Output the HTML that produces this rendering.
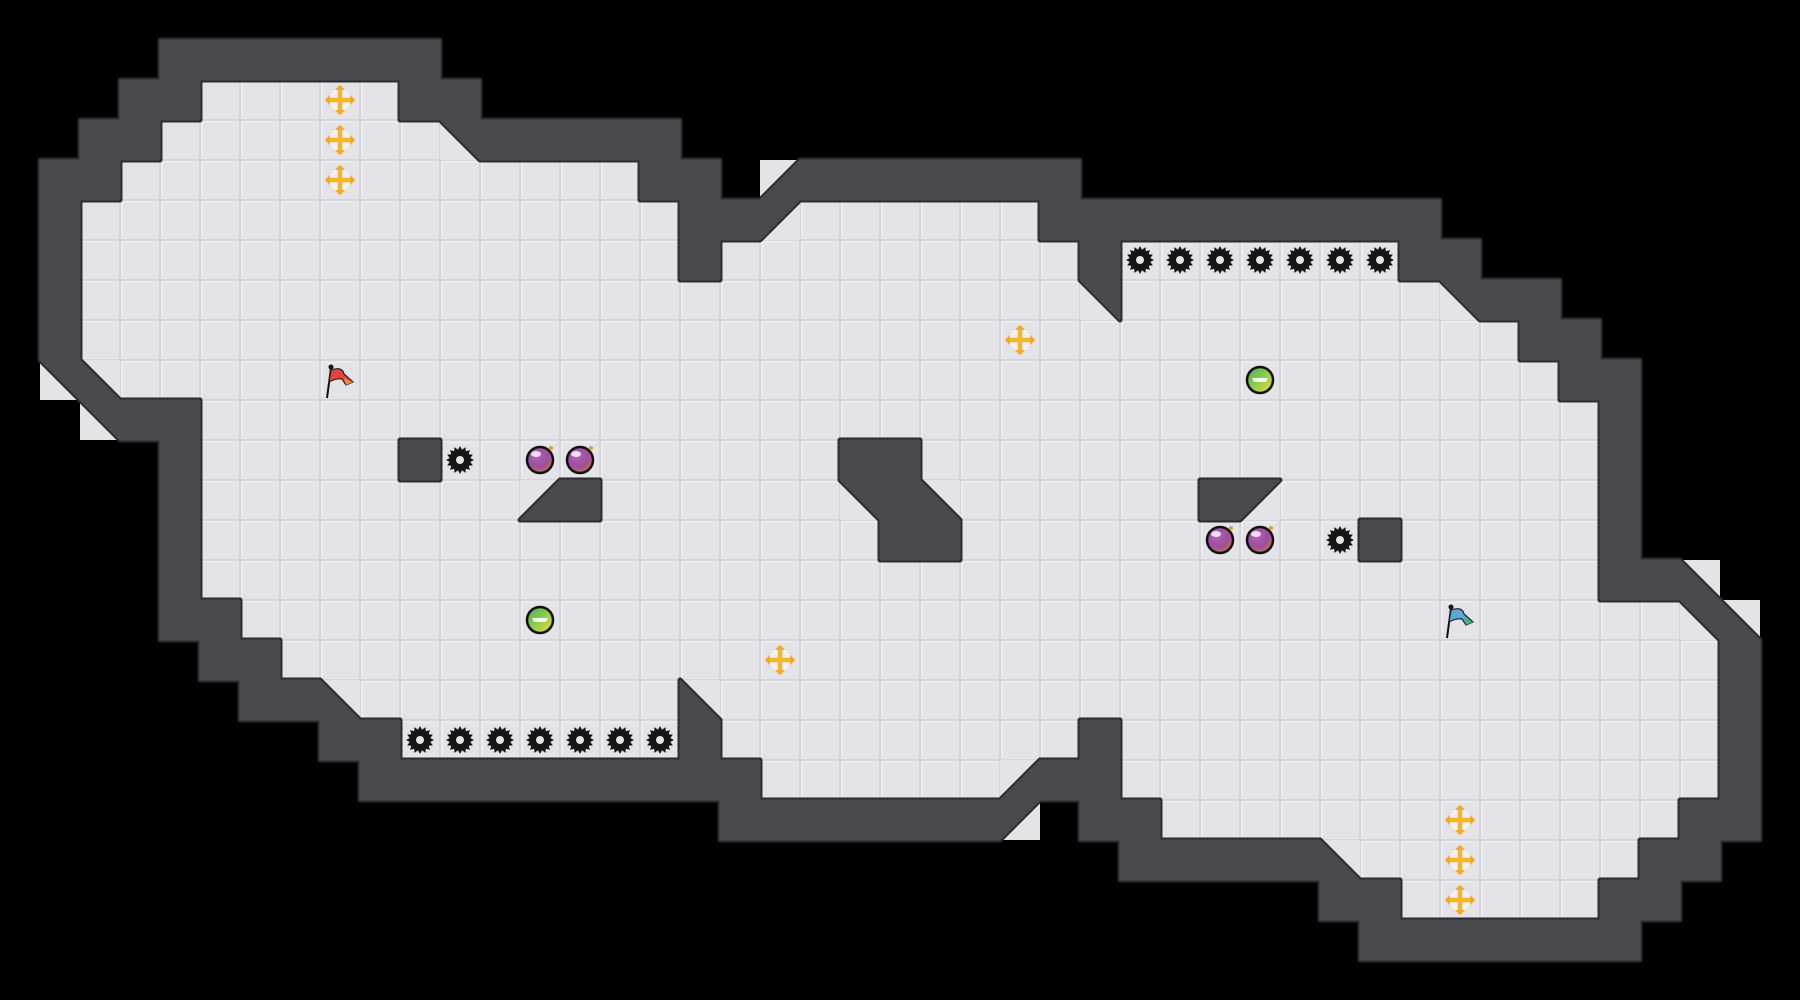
<!DOCTYPE html>
<html><head><meta charset="utf-8"><style>
html,body{margin:0;padding:0;background:#000;width:1800px;height:1000px;overflow:hidden}
svg{display:block}
</style></head><body>
<svg id="s" width="1800" height="1000" viewBox="0 0 1800 1000" xmlns="http://www.w3.org/2000/svg">
<defs>
<radialGradient id="pg" cx="0.4" cy="0.35" r="0.7"><stop offset="0" stop-color="#b565b8"/><stop offset="0.6" stop-color="#9a4f9a"/><stop offset="1" stop-color="#d0704a"/></radialGradient>
<linearGradient id="gg" x1="0" y1="0" x2="1" y2="1"><stop offset="0" stop-color="#3cb35a"/><stop offset="1" stop-color="#e8e03a"/></linearGradient>
</defs>
<g id="floor"></g><g id="w1"></g><g id="w2"></g><g id="items"></g>
</svg>
<script>
var C=40,NS="http://www.w3.org/2000/svg";
function el(p,t,a){var e=document.createElementNS(NS,t);for(var k in a)e.setAttribute(k,a[k]);document.getElementById(p).appendChild(e);return e;}
var rows={
1:[["W",4,10]],
2:[["W",3,4],["F",5,9],["W",10,11]],
3:[["W",2,3],["F",4,10],["W",12,16]],
4:[["W",1,2],["F",3,15],["W",16,17],["W",20,26]],
5:[["W",1,1],["F",2,16],["W",17,18],["F",20,25],["W",26,35]],
6:[["W",1,1],["F",2,16],["W",17,17],["F",18,26],["W",27,27],["F",28,34],["W",35,36]],
7:[["W",1,1],["F",2,26],["F",28,35],["W",37,38]],
8:[["W",1,1],["F",2,37],["W",38,39]],
9:[["F",3,38],["W",39,40]],
10:[["W",3,4],["F",5,39],["W",40,40]],
11:[["W",4,4],["F",5,39],["W",40,40],["W",10,10],["W",21,22]],
12:[["W",4,4],["F",5,39],["W",40,40],["W",14,14],["W",22,22],["W",30,30]],
13:[["W",4,4],["F",5,39],["W",40,40],["W",22,23],["W",34,34]],
14:[["W",4,4],["F",5,39],["W",40,41]],
15:[["W",4,5],["F",6,41]],
16:[["W",5,6],["F",7,42],["W",43,43]],
17:[["W",6,7],["F",9,16],["F",18,42],["W",43,43]],
18:[["W",8,9],["F",10,16],["W",17,17],["F",18,26],["W",27,27],["F",28,42],["W",43,43]],
19:[["W",9,18],["F",19,24],["W",26,27],["F",28,42],["W",43,43]],
20:[["W",18,24],["W",27,28],["F",29,41],["W",42,43]],
21:[["W",28,32],["F",34,40],["W",41,42]],
22:[["W",33,34],["F",35,39],["W",40,41]],
23:[["W",34,40]]
};
var T={LL:[[0,0],[0,1],[1,1]],UR:[[0,0],[1,0],[1,1]],UL:[[0,0],[1,0],[0,1]],LR:[[1,0],[1,1],[0,1]]};
var D=[[3,11,"LL","F","UR","W"],[4,19,"UL","F","LR","W"],[5,19,"UL","W","LR","F"],[7,27,"LL","F","UR","W"],[7,36,"LL","F","UR","W"],
[9,1,"LL","F","UR","W"],[9,2,"LL","W","UR","F"],[10,2,"LL","F","UR","W"],[12,13,"UL","F","LR","W"],[12,21,"LL","F","UR","W"],
[12,23,"LL","W","UR","F"],[12,31,"UL","W","LR","F"],[14,42,"LL","W","UR","F"],[15,42,"LL","F","UR","W"],[15,43,"LL","W","UR","F"],
[17,8,"LL","W","UR","F"],[17,17,"LL","W","UR","F"],[19,25,"UL","F","LR","W"],[20,25,"UL","W","LR","F"],[21,33,"LL","W","UR","F"]];
var walls=[];
for(var r in rows){rows[r].forEach(function(s){
 if(s[0]=="F"){for(var c=s[1];c<=s[2];c++){
   el("floor","rect",{x:c*C,y:r*C,width:C,height:C,fill:"#e3e3e8",stroke:"#d2d2d7","stroke-width":1.5});
   el("floor","path",{d:"M"+(c*C+2)+","+(r*C+C-3)+"V"+(r*C+2)+"H"+(c*C+C-3),stroke:"#efeff2","stroke-width":1.5,fill:"none"});
 }} else walls.push("M"+s[1]*C+","+r*C+"h"+(s[2]-s[1]+1)*C+"v"+C+"h"+(-(s[2]-s[1]+1)*C)+"z");
});}
function tri(r,c,t){return "M"+T[t].map(function(p){return (c+p[0])*C+","+(r+p[1])*C}).join("L")+"z";}
D.forEach(function(d){
 [[d[2],d[3]],[d[4],d[5]]].forEach(function(h){
  if(h[1]=="F")el("floor","path",{d:tri(d[0],d[1],h[0]),fill:"#e3e3e8"});else walls.push(tri(d[0],d[1],h[0]));
 });
});
var wp=walls.join("");
el("w1","path",{d:wp,fill:"#2c2b2f",stroke:"#2c2b2f","stroke-width":5,"stroke-linejoin":"round"});
el("w2","path",{d:wp,fill:"#4a494e",stroke:"#4a494e","stroke-width":1,"stroke-linejoin":"round"});
function ctr(c,r){return [c*C+20,r*C+20];}
function gear(c,r){var p=ctr(c,r),x=p[0],y=p[1],d="";
 for(var i=0;i<32;i++){var a=i*Math.PI/16,rr=i%2?10.5:14;d+=(i?"L":"M")+(x+rr*Math.cos(a)).toFixed(1)+","+(y+rr*Math.sin(a)).toFixed(1);}
 el("items","path",{d:d+"z",fill:"#151515"});el("items","circle",{cx:x,cy:y,r:4,fill:"#e3e3e8"});}
function cross(c,r){var p=ctr(c,r),x=p[0],y=p[1];
 el("items","circle",{cx:x,cy:y,r:12,fill:"#f1f1f4",stroke:"#dcdce2","stroke-width":1});
 el("items","path",{d:"M"+x+","+(y-14)+"V"+(y+14)+"M"+(x-14)+","+y+"H"+(x+14),stroke:"#f6b52a","stroke-width":4.5});
 el("items","path",{d:"M"+(x-5)+","+(y-10)+"L"+x+","+(y-15)+"L"+(x+5)+","+(y-10)+"z M"+(x-5)+","+(y+10)+"L"+x+","+(y+15)+"L"+(x+5)+","+(y+10)+"z M"+(x-10)+","+(y-5)+"L"+(x-15)+","+y+"L"+(x-10)+","+(y+5)+"z M"+(x+10)+","+(y-5)+"L"+(x+15)+","+y+"L"+(x+10)+","+(y+5)+"z",fill:"#f6a82a"});}
function orb(c,r){var p=ctr(c,r),x=p[0],y=p[1];
 el("items","circle",{cx:x,cy:y,r:13,fill:"url(#pg)",stroke:"#111","stroke-width":2.5});
 el("items","ellipse",{cx:x-4,cy:y-6,rx:5,ry:3,fill:"#fff",opacity:0.8});
 el("items","circle",{cx:x+11,cy:y-12,r:2,fill:"#f59a30"});}
function gorb(c,r){var p=ctr(c,r),x=p[0],y=p[1];
 el("items","circle",{cx:x,cy:y,r:13,fill:"url(#gg)",stroke:"#111","stroke-width":2.5});
 el("items","path",{d:"M"+(x-8)+","+(y-2)+"h16l-2,4h-12z",fill:"#fff",opacity:0.9});}
function flag(c,r,col,col2){var p=ctr(c,r),x=p[0],y=p[1];
 el("items","path",{d:"M"+(x-13)+","+(y+18)+"L"+(x-9)+","+(y-12),stroke:"#111","stroke-width":2});
 el("items","circle",{cx:x-9,cy:y-13,r:2.5,fill:"#111"});
 el("items","path",{d:"M"+(x-9)+","+(y-10)+"Q"+(x+2)+","+(y-14)+" "+(x+4)+","+(y-6)+"L"+(x+13)+","+(y+2)+"L"+(x+6)+","+(y+5)+"L"+(x+2)+","+(y-1)+"Q"+(x-4)+","+(y-2)+" "+(x-11)+","+(y+2)+"z",fill:col,stroke:"#222","stroke-width":1.2});
 el("items","path",{d:"M"+(x+4)+","+(y-2)+"L"+(x+13)+","+(y+2)+"L"+(x+6)+","+(y+5)+"z",fill:col2});}
[[8,2],[8,3],[8,4],[25,8],[19,16],[36,20],[36,21],[36,22]].forEach(function(a){cross(a[0],a[1]);});
for(var c=28;c<=34;c++)gear(c,6);
for(var c=10;c<=16;c++)gear(c,18);
gear(11,11);gear(33,13);
orb(13,11);orb(14,11);orb(30,13);orb(31,13);
gorb(31,9);gorb(13,15);
flag(8,9,"#e8433a","#f08a30");flag(36,15,"#5aa8d8","#3cb870");
</script>
</body></html>
